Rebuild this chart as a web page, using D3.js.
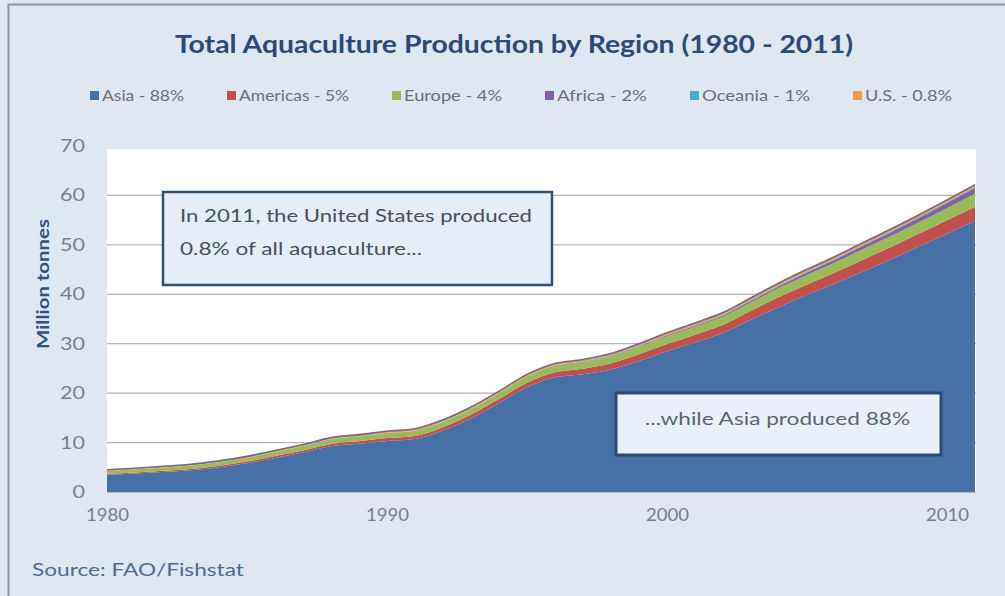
<!DOCTYPE html>
<html>
<head>
<meta charset="utf-8">
<script src="https://cdn.jsdelivr.net/npm/d3@7/dist/d3.min.js"></script>
<style>
  body { margin: 0; background: #ffffff; }
  svg { display: block; font-family: Lato, 'Open Sans', sans-serif; }
</style>
</head>
<body>
<div id="chart"></div>
<script>
'use strict';

// data (million tonnes)
const years = d3.range(1980, 2012);
const asia = [3.47, 3.73, 4.06, 4.40, 5.02, 5.82, 6.90, 7.98, 9.25, 9.74,
  10.32, 10.73, 12.44, 14.91, 17.99, 21.21, 23.23, 23.84, 24.80, 26.49,
  28.48, 30.28, 32.17, 34.83, 37.45, 39.90, 42.17, 44.61, 47.07, 49.73,
  52.27, 54.82];
const americas = [0.20, 0.22, 0.24, 0.27, 0.30, 0.33, 0.37, 0.42, 0.48, 0.52,
  0.58, 0.62, 0.68, 0.75, 0.82, 0.90, 1.00, 1.10, 1.25, 1.40,
  1.45, 1.55, 1.65, 1.85, 2.00, 2.10, 2.25, 2.40, 2.50, 2.55,
  2.70, 2.90];
const europe = [0.60, 0.62, 0.65, 0.68, 0.70, 0.75, 0.80, 0.85, 0.90, 0.95,
  1.00, 1.02, 1.05, 1.08, 1.12, 1.20, 1.25, 1.30, 1.35, 1.45,
  1.55, 1.60, 1.65, 1.70, 1.80, 1.90, 2.00, 2.10, 2.20, 2.30,
  2.45, 2.60];
const africa = [0.01, 0.01, 0.01, 0.01, 0.01, 0.02, 0.02, 0.02, 0.03, 0.03,
  0.04, 0.04, 0.04, 0.05, 0.05, 0.06, 0.08, 0.09, 0.10, 0.12,
  0.17, 0.20, 0.25, 0.30, 0.40, 0.50, 0.60, 0.70, 0.80, 0.90,
  1.05, 1.20];
const oceania = [0.02, 0.02, 0.02, 0.02, 0.03, 0.03, 0.03, 0.03, 0.04, 0.04,
  0.04, 0.05, 0.05, 0.06, 0.06, 0.07, 0.08, 0.09, 0.10, 0.11,
  0.12, 0.13, 0.13, 0.14, 0.15, 0.15, 0.15, 0.16, 0.17, 0.17,
  0.18, 0.18];
const us = [0.20, 0.20, 0.22, 0.22, 0.24, 0.25, 0.28, 0.30, 0.30, 0.32,
  0.32, 0.34, 0.34, 0.35, 0.36, 0.36, 0.36, 0.38, 0.40, 0.43,
  0.43, 0.44, 0.45, 0.48, 0.50, 0.50, 0.48, 0.48, 0.46, 0.45,
  0.45, 0.45];

const seriesNames = ['Asia', 'Americas', 'Europe', 'Africa', 'Oceania', 'U.S.'];
const legendLabels = ['Asia - 88%', 'Americas - 5%', 'Europe - 4%', 'Africa - 2%', 'Oceania - 1%', 'U.S. - 0.8%'];
const colors = ['#4670a6', '#c0504d', '#9bbb59', '#8064a2', '#4bacc6', '#f79646'];
const yTicks = [0, 10, 20, 30, 40, 50, 60, 70];
const xTicks = [1980, 1990, 2000, 2010];

// table for d3.stack
const table = years.map((yr, i) => ({
  year: yr,
  Asia: asia[i],
  Americas: americas[i],
  Europe: europe[i],
  Africa: africa[i],
  Oceania: oceania[i],
  'U.S.': us[i]
}));

const W = 1005;
const H = 596;
const plot = { left: 107, right: 975, top: 146, bottom: 492 };

const svg = d3.select('#chart')
  .append('svg')
    .attr('width', W)
    .attr('height', H);

// panel background and frame
svg.append('rect')
  .attr('x', 0).attr('y', 0).attr('width', W).attr('height', H)
  .attr('fill', '#dfe7f2');
svg.append('path')
  .attr('d', `M8.5,${H} V4.5 H${W}`)
  .attr('fill', 'none')
  .attr('stroke', '#8c939c')
  .attr('stroke-width', 2);

// plot area
svg.append('rect')
  .attr('x', plot.left).attr('y', plot.top + 3)
  .attr('width', plot.right - plot.left + 1)
  .attr('height', plot.bottom - plot.top - 3)
  .attr('fill', '#ffffff');

const x = d3.scaleLinear()
  .domain([1980, 2011])
  .range([plot.left, plot.right]);
const y = d3.scaleLinear()
  .domain([0, 70])
  .range([plot.bottom, plot.top]);

// gridlines
svg.append('g')
  .selectAll('line')
  .data(yTicks.filter(d => d > 0 && d < 70))
  .join('line')
    .attr('x1', plot.left).attr('x2', plot.right + 1)
    .attr('y1', d => y(d)).attr('y2', d => y(d))
    .attr('stroke', '#b4b4b4')
    .attr('stroke-width', 1.2);

// stacked areas
const stack = d3.stack().keys(seriesNames);
const layers = stack(table);
const area = d3.area()
  .x(d => x(d.data.year))
  .y0(d => y(d[0]))
  .y1(d => y(d[1]))
  .curve(d3.curveMonotoneX);

svg.append('g')
  .selectAll('path')
  .data(layers)
  .join('path')
    .attr('d', area)
    .attr('fill', (d, i) => colors[i]);

// greyish outline on the top edge
const topLine = d3.line()
  .x(d => x(d.data.year))
  .y(d => y(d[1]))
  .curve(d3.curveMonotoneX);
svg.append('path')
  .datum(layers[layers.length - 1])
  .attr('d', topLine)
  .attr('fill', 'none')
  .attr('stroke', '#6f6a8c')
  .attr('stroke-width', 1.6);

// y axis
const yAxis = svg.append('g')
  .attr('transform', `translate(${plot.left},0)`)
  .call(d3.axisLeft(y).tickValues(yTicks).tickSize(0).tickPadding(22));
yAxis.select('.domain').remove();
yAxis.selectAll('text')
  .attr('fill', '#7a7f86')
  .attr('textLength', d => (d < 10 ? 12.5 : 25))
  .attr('lengthAdjust', 'spacingAndGlyphs')
  .style('font-size', '17px')
  .style('font-family', 'Lato, sans-serif');

// x axis
const xAxis = svg.append('g')
  .attr('transform', `translate(0,${plot.bottom})`)
  .call(d3.axisBottom(x).tickValues(xTicks).tickFormat(d3.format('d')).tickSize(0).tickPadding(17));
xAxis.select('.domain')
  .attr('stroke', '#b4b4b4');
xAxis.selectAll('text')
  .attr('fill', '#7a7f86')
  .attr('textLength', 43)
  .attr('lengthAdjust', 'spacingAndGlyphs')
  .style('font-size', '17px')
  .style('font-family', 'Lato, sans-serif');

// axis title
svg.append('text')
  .attr('transform', 'translate(49,284) rotate(-90)')
  .attr('text-anchor', 'middle')
  .attr('fill', '#2f5283')
  .attr('textLength', 130)
  .attr('lengthAdjust', 'spacingAndGlyphs')
  .style('font-size', '17px')
  .style('font-weight', 'bold')
  .text('Million tonnes');

// chart title
svg.append('text')
  .attr('x', 514).attr('y', 53)
  .attr('text-anchor', 'middle')
  .attr('fill', '#2b4a75')
  .style('font-size', '24px')
  .style('font-weight', 'bold')
  .attr('textLength', 678)
  .attr('lengthAdjust', 'spacingAndGlyphs')
  .text('Total Aquaculture Production by Region (1980 - 2011)');

// legend
const legendX = [90, 227, 392, 545, 690, 853];
const legendW = [82, 110, 98, 90, 108, 87];
const legend = svg.append('g')
  .selectAll('g')
  .data(legendLabels)
  .join('g')
    .attr('transform', (d, i) => `translate(${legendX[i]},98)`);
legend.append('rect')
  .attr('x', 0).attr('y', -7)
  .attr('width', 9).attr('height', 9)
  .attr('fill', (d, i) => colors[i]);
legend.append('text')
  .attr('x', 12).attr('y', 3)
  .attr('fill', '#6a7079')
  .attr('textLength', (d, i) => legendW[i])
  .attr('lengthAdjust', 'spacingAndGlyphs')
  .style('font-size', '16px')
  .text(d => d);

// annotation boxes
svg.append('rect')
  .attr('x', 163).attr('y', 192)
  .attr('width', 389).attr('height', 93)
  .attr('fill', '#e5edf8')
  .attr('stroke', '#34506f')
  .attr('stroke-width', 2.5);
svg.append('text')
  .attr('x', 180).attr('y', 222)
  .attr('fill', '#45505e')
  .attr('textLength', 352)
  .attr('lengthAdjust', 'spacingAndGlyphs')
  .style('font-size', '18px')
  .text('In 2011, the United States produced');
svg.append('text')
  .attr('x', 180).attr('y', 255)
  .attr('fill', '#45505e')
  .attr('textLength', 242)
  .attr('lengthAdjust', 'spacingAndGlyphs')
  .style('font-size', '18px')
  .text('0.8% of all aquaculture...');

svg.append('rect')
  .attr('x', 616).attr('y', 393)
  .attr('width', 325).attr('height', 62)
  .attr('fill', '#e9f0fa')
  .attr('stroke', '#2b4a75')
  .attr('stroke-width', 3);
svg.append('text')
  .attr('x', 645).attr('y', 425)
  .attr('fill', '#5a6470')
  .attr('textLength', 265)
  .attr('lengthAdjust', 'spacingAndGlyphs')
  .style('font-size', '18px')
  .text('...while Asia produced 88%');

// source
svg.append('text')
  .attr('x', 32).attr('y', 576)
  .attr('fill', '#4b6b90')
  .attr('textLength', 212)
  .attr('lengthAdjust', 'spacingAndGlyphs')
  .style('font-size', '18px')
  .text('Source: FAO/Fishstat');
</script>
</body>
</html>
